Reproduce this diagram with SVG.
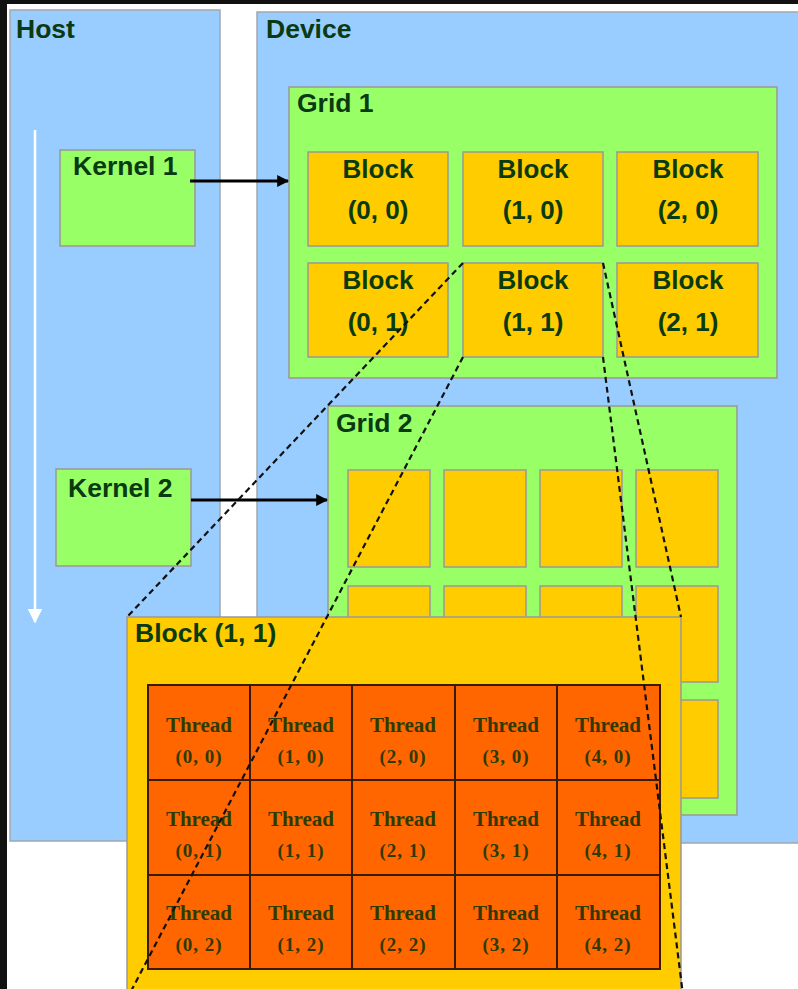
<svg xmlns="http://www.w3.org/2000/svg" width="798" height="989" viewBox="0 0 798 989">
<defs>
<style>
.panel{fill:#99ccff;stroke:#a0a8b0;stroke-width:1.5}
.grn{fill:#99ff66;stroke:#999;stroke-width:1.5}
.blk{fill:#ffcc00;stroke:#999;stroke-width:1.5}
.thr{fill:#ff6600;stroke:#3a1a00;stroke-width:2}
.lbl{font-family:"Liberation Sans",Arial,sans-serif;font-weight:bold;font-size:26.5px;fill:#0a3a12}
.bt{font-family:"Liberation Sans",Arial,sans-serif;font-weight:bold;font-size:26px;fill:#0a3a12;text-anchor:middle}
.tt{font-family:"Liberation Serif","Times New Roman",serif;font-weight:bold;font-size:21px;fill:#2e3a00;text-anchor:middle}
.tc{font-family:"Liberation Serif","Times New Roman",serif;font-weight:bold;font-size:19px;fill:#2e3a00;text-anchor:middle;letter-spacing:1px}
.arr{stroke:#000;stroke-width:3;fill:none}
.dash{stroke:#111;stroke-width:2.2;stroke-dasharray:6,4;fill:none}
</style>
<marker id="ah" viewBox="0 0 10 10" refX="9" refY="5" markerWidth="4" markerHeight="4" orient="auto" markerUnits="strokeWidth"><path d="M0,0 L10,5 L0,10 z" fill="#000"/></marker>
<marker id="wh" viewBox="0 0 10 10" refX="9" refY="5" markerWidth="6" markerHeight="6" orient="auto" markerUnits="strokeWidth"><path d="M0,0 L10,5 L0,10 z" fill="#fff"/></marker>
</defs>
<rect x="0" y="0" width="798" height="989" fill="#fff"/>
<rect x="0" y="0" width="798" height="4" fill="#111"/>
<rect x="0" y="0" width="7" height="989" fill="#111"/>

<g id="host">
<rect class="panel" x="10" y="10" width="210" height="831"/>
<text class="lbl" x="16" y="38">Host</text>
<line x1="35" y1="130" x2="35" y2="622" stroke="#fff" stroke-width="2.5" marker-end="url(#wh)"/>
</g>
<g id="device">
<rect class="panel" x="257" y="12" width="545" height="831"/>
<text class="lbl" x="266" y="38">Device</text>
</g>
<g id="kernel1">
<rect class="grn" x="60" y="150" width="135" height="96"/>
<text class="lbl" x="73" y="175">Kernel 1</text>
</g>
<g id="kernel2">
<rect class="grn" x="56" y="469" width="135" height="97"/>
<text class="lbl" x="68" y="497">Kernel 2</text>
</g>
<g id="grid1">
<rect class="grn" x="289" y="87" width="488" height="291"/>
<text class="lbl" x="297" y="112">Grid 1</text>
<rect class="blk" x="308" y="152" width="140" height="94"/>
<text class="bt" x="378" y="178">Block</text><text class="bt" x="378" y="219">(0, 0)</text>
<rect class="blk" x="463" y="152" width="140" height="94"/>
<text class="bt" x="533" y="178">Block</text><text class="bt" x="533" y="219">(1, 0)</text>
<rect class="blk" x="617" y="152" width="141" height="94"/>
<text class="bt" x="688" y="178">Block</text><text class="bt" x="688" y="219">(2, 0)</text>
<rect class="blk" x="308" y="263" width="140" height="94"/>
<text class="bt" x="378" y="289">Block</text><text class="bt" x="378" y="331">(0, 1)</text>
<rect class="blk" x="463" y="263" width="140" height="94"/>
<text class="bt" x="533" y="289">Block</text><text class="bt" x="533" y="331">(1, 1)</text>
<rect class="blk" x="617" y="263" width="141" height="94"/>
<text class="bt" x="688" y="289">Block</text><text class="bt" x="688" y="331">(2, 1)</text>
</g>
<g id="grid2">
<rect class="grn" x="328" y="406" width="409" height="409"/>
<text class="lbl" x="336" y="432">Grid 2</text>
<rect class="blk" x="348" y="470" width="82" height="97"/>
<rect class="blk" x="444" y="470" width="82" height="97"/>
<rect class="blk" x="540" y="470" width="82" height="97"/>
<rect class="blk" x="636" y="470" width="82" height="97"/>
<rect class="blk" x="348" y="586" width="82" height="96"/>
<rect class="blk" x="444" y="586" width="82" height="96"/>
<rect class="blk" x="540" y="586" width="82" height="96"/>
<rect class="blk" x="636" y="586" width="82" height="96"/>
<rect class="blk" x="348" y="700" width="82" height="98"/>
<rect class="blk" x="444" y="700" width="82" height="98"/>
<rect class="blk" x="540" y="700" width="82" height="98"/>
<rect class="blk" x="636" y="700" width="82" height="98"/>
</g>
<g id="block11">
<rect class="blk" x="127" y="617" width="554" height="380"/>
<text class="lbl" x="135" y="642">Block (1, 1)</text>
</g>
<g id="threads">
<rect class="thr" x="148" y="685" width="102" height="95"/><text class="tt" x="199" y="732">Thread</text><text class="tc" x="199" y="763">(0, 0)</text>
<rect class="thr" x="250" y="685" width="102" height="95"/><text class="tt" x="301" y="732">Thread</text><text class="tc" x="301" y="763">(1, 0)</text>
<rect class="thr" x="352" y="685" width="103" height="95"/><text class="tt" x="403" y="732">Thread</text><text class="tc" x="403" y="763">(2, 0)</text>
<rect class="thr" x="455" y="685" width="102" height="95"/><text class="tt" x="506" y="732">Thread</text><text class="tc" x="506" y="763">(3, 0)</text>
<rect class="thr" x="557" y="685" width="103" height="95"/><text class="tt" x="608" y="732">Thread</text><text class="tc" x="608" y="763">(4, 0)</text>
<rect class="thr" x="148" y="780" width="102" height="95"/><text class="tt" x="199" y="826">Thread</text><text class="tc" x="199" y="857">(0, 1)</text>
<rect class="thr" x="250" y="780" width="102" height="95"/><text class="tt" x="301" y="826">Thread</text><text class="tc" x="301" y="857">(1, 1)</text>
<rect class="thr" x="352" y="780" width="103" height="95"/><text class="tt" x="403" y="826">Thread</text><text class="tc" x="403" y="857">(2, 1)</text>
<rect class="thr" x="455" y="780" width="102" height="95"/><text class="tt" x="506" y="826">Thread</text><text class="tc" x="506" y="857">(3, 1)</text>
<rect class="thr" x="557" y="780" width="103" height="95"/><text class="tt" x="608" y="826">Thread</text><text class="tc" x="608" y="857">(4, 1)</text>
<rect class="thr" x="148" y="875" width="102" height="94"/><text class="tt" x="199" y="920">Thread</text><text class="tc" x="199" y="951">(0, 2)</text>
<rect class="thr" x="250" y="875" width="102" height="94"/><text class="tt" x="301" y="920">Thread</text><text class="tc" x="301" y="951">(1, 2)</text>
<rect class="thr" x="352" y="875" width="103" height="94"/><text class="tt" x="403" y="920">Thread</text><text class="tc" x="403" y="951">(2, 2)</text>
<rect class="thr" x="455" y="875" width="102" height="94"/><text class="tt" x="506" y="920">Thread</text><text class="tc" x="506" y="951">(3, 2)</text>
<rect class="thr" x="557" y="875" width="103" height="94"/><text class="tt" x="608" y="920">Thread</text><text class="tc" x="608" y="951">(4, 2)</text>
</g>
<g id="connectors">
<line class="arr" x1="190" y1="181" x2="288" y2="181" marker-end="url(#ah)"/>
<line class="arr" x1="191" y1="500" x2="327" y2="500" marker-end="url(#ah)"/>
<line class="dash" x1="463" y1="263" x2="127" y2="617"/>
<line class="dash" x1="463" y1="357" x2="129" y2="995"/>
<line class="dash" x1="603" y1="263" x2="681" y2="617"/>
<line class="dash" x1="603" y1="357" x2="683" y2="995"/>
</g>
</svg>
